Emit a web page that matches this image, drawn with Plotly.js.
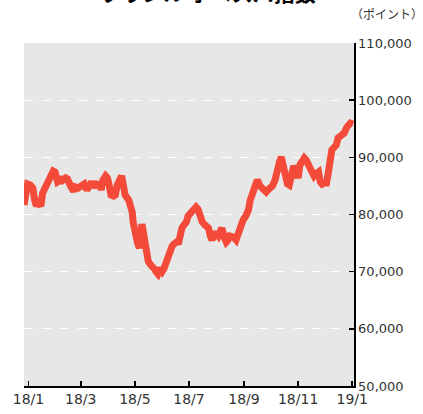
<!DOCTYPE html>
<html>
<head>
<meta charset="utf-8">
<script src="https://cdn.plot.ly/plotly-3.0.1.min.js"></script>
<style>html,body{margin:0;padding:0;background:#fff;}#chart{width:423px;height:414px;}</style>
</head>
<body>
<div id="chart"></div>
<script>
const dates = [
 "2018-01-17","2018-01-19","2018-01-21","2018-01-24","2018-01-27","2018-01-29","2018-01-31","2018-02-02","2018-02-05","2018-02-07",
 "2018-02-10","2018-02-12","2018-02-15","2018-02-17","2018-02-19","2018-02-21","2018-02-24","2018-02-26","2018-02-28","2018-03-02",
 "2018-03-05","2018-03-07","2018-03-09","2018-03-11","2018-03-14","2018-03-16","2018-03-19","2018-03-23","2018-03-26","2018-03-29",
 "2018-04-02","2018-04-05","2018-04-07","2018-04-10","2018-04-12","2018-04-14","2018-04-16","2018-04-19","2018-04-21","2018-04-23",
 "2018-04-25","2018-04-28","2018-04-30","2018-05-02","2018-05-04","2018-05-07","2018-05-09","2018-05-11","2018-05-15","2018-05-17",
 "2018-05-19","2018-05-20","2018-05-22","2018-05-25","2018-05-27","2018-05-29","2018-05-30","2018-06-02","2018-06-04","2018-06-06",
 "2018-06-08","2018-06-11","2018-06-13","2018-06-15","2018-06-17","2018-06-20","2018-06-22","2018-06-24","2018-06-26","2018-06-29",
 "2018-07-01","2018-07-03","2018-07-05","2018-07-08","2018-07-10","2018-07-12","2018-07-14","2018-07-17","2018-07-19","2018-07-21",
 "2018-07-23","2018-07-26","2018-07-28","2018-07-30","2018-08-01","2018-08-04","2018-08-06","2018-08-09","2018-08-13","2018-08-15",
 "2018-08-17","2018-08-19","2018-08-22","2018-08-24","2018-08-26","2018-08-28","2018-08-31","2018-09-02","2018-09-04","2018-09-06",
 "2018-09-10","2018-09-13","2018-09-15","2018-09-18","2018-09-21","2018-09-24","2018-09-27","2018-09-29","2018-10-01","2018-10-05",
 "2018-10-07","2018-10-10","2018-10-14","2018-10-17","2018-10-20","2018-10-24","2018-10-27","2018-10-29","2018-11-01","2018-11-03",
 "2018-11-05","2018-11-07","2018-11-10","2018-11-12","2018-11-14","2018-11-17","2018-11-20","2018-11-22","2018-11-24","2018-11-27",
 "2018-11-29","2018-12-01","2018-12-03","2018-12-06","2018-12-08","2018-12-10","2018-12-12","2018-12-15","2018-12-17","2018-12-19",
 "2018-12-21","2018-12-24","2018-12-26","2018-12-28","2018-12-30","2019-01-02","2019-01-04","2019-01-06","2019-01-09","2019-01-13",
 "2019-01-16","2019-01-20","2019-01-23"
];
const values = [
 81660,84280,85330,85150,84630,82530,81480,82010,81480,83760,
 84630,85330,86380,86900,87600,87430,85680,85850,86550,86030,
 86380,86200,85330,84810,84110,84810,84630,84980,85330,84280,
 85330,85150,85680,84810,85680,84280,86030,86730,86380,85150,
 83410,83230,83410,85150,86200,86730,85150,83410,82530,81830,
 80430,78680,76410,75010,74140,75890,78330,75540,72910,71860,
 71340,70990,70460,69940,69590,70640,70110,70640,71690,72740,
 73440,74490,74840,75190,74840,76590,77630,78330,78680,79730,
 80080,80260,80780,81310,80960,79380,78680,78160,77630,76240,
 75540,76590,76590,76240,76930,77630,75890,75190,75540,76240,
 76060,75540,76410,78160,79030,79730,80780,82530,83410,85150,
 86030,84980,84280,83930,84460,84980,86030,87780,89180,90050,
 88650,86900,85330,85150,86380,88480,87430,86380,88650,89180,
 89880,89530,89000,88130,87430,86730,87080,87430,85680,85330,
 85500,85500,87250,89530,91280,91800,92150,93380,93900,94250,
 95300,96000,95820
];
const tickDates = ["2018-01-22","2018-03-22","2018-05-22","2018-07-22","2018-09-22","2018-11-22","2019-01-22"];
const tickLabels = ["18/1","18/3","18/5","18/7","18/9","18/11","19/1"];
const yTicks = [50000,60000,70000,80000,90000,100000,110000];
const yTickLabels = ["50,000","60,000","70,000","80,000","90,000","100,000","110,000"];
const chartTitle = "ブラジル ボベスパ指数";
const unitLabel = "（ポイント）";

const font = "'Noto Sans CJK JP', 'Noto Sans', sans-serif";
const numFont = "'DejaVu Sans', sans-serif";
Plotly.newPlot("chart", [{
  x: dates, y: values, type: "scatter", mode: "lines",
  line: {color: "#f44a3a", width: 7, shape: "linear"},
  hoverinfo: "skip"
}], {
  width: 423, height: 414,
  margin: {l: 24, r: 69, t: 43, b: 28},
  paper_bgcolor: "#ffffff",
  plot_bgcolor: "#e7e7e7",
  showlegend: false,
  font: {family: font, color: "#333333", size: 13},
  xaxis: {
    type: "date", range: ["2018-01-17", "2019-01-24"],
    tickvals: tickDates, ticktext: tickLabels,
    ticks: "inside", ticklen: 5, tickwidth: 1.5, tickcolor: "#000",
    showline: true, linecolor: "#000", linewidth: 1.5,
    showgrid: false, zeroline: false,
    tickfont: {family: numFont, size: 14, color: "#333"}
  },
  yaxis: {
    side: "right", range: [50000, 110000],
    tickvals: yTicks, ticktext: yTickLabels,
    ticks: "inside", ticklen: 5, tickwidth: 1.5, tickcolor: "#000",
    showline: true, linecolor: "#000", linewidth: 1.5,
    showgrid: true, gridcolor: "#ffffff", gridwidth: 1.3, griddash: "dash",
    zeroline: false,
    tickfont: {family: numFont, size: 13, color: "#333"}
  },
  annotations: [
    {text: "<b>" + chartTitle + "</b>", xref: "paper", yref: "paper", x: 0.56, y: 1.15,
     xanchor: "center", yanchor: "middle", showarrow: false, font: {family: font, size: 21, color: "#000"}},
    {text: unitLabel, xref: "paper", yref: "paper", x: 1.1, y: 1.087,
     xanchor: "center", yanchor: "middle", showarrow: false, font: {family: font, size: 12, color: "#333"}}
  ]
}, {displayModeBar: false, staticPlot: true});
</script>
</body>
</html>
